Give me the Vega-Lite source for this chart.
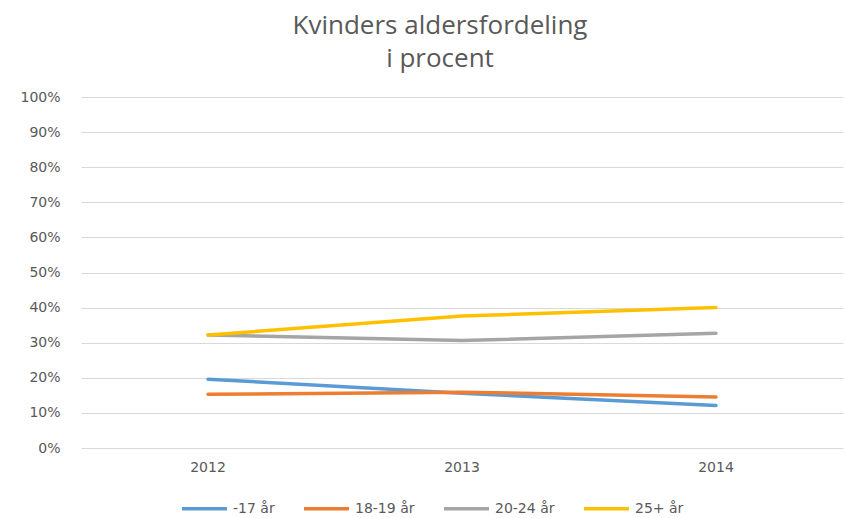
{
  "$schema": "https://vega.github.io/schema/vega-lite/v6.json",
  "width": 762,
  "height": 351,
  "autosize": {"type": "none"},
  "padding": {"left": 81, "top": 97, "right": 3, "bottom": 70},
  "background": "white",
  "title": {
    "text": ["Kvinders aldersfordeling", "i procent"],
    "font": "Open Sans",
    "fontSize": 26,
    "fontWeight": "normal",
    "color": "#595959",
    "lineHeight": 33,
    "anchor": "middle",
    "dx": -22,
    "offset": 18
  },
  "data": {
    "values": [
      {"year": "2012", "group": "-17 år", "value": 0.196},
      {"year": "2013", "group": "-17 år", "value": 0.156},
      {"year": "2014", "group": "-17 år", "value": 0.121},
      {"year": "2012", "group": "18-19 år", "value": 0.153},
      {"year": "2013", "group": "18-19 år", "value": 0.159},
      {"year": "2014", "group": "18-19 år", "value": 0.145},
      {"year": "2012", "group": "20-24 år", "value": 0.322},
      {"year": "2013", "group": "20-24 år", "value": 0.306},
      {"year": "2014", "group": "20-24 år", "value": 0.327},
      {"year": "2012", "group": "25+ år", "value": 0.322},
      {"year": "2013", "group": "25+ år", "value": 0.376},
      {"year": "2014", "group": "25+ år", "value": 0.400}
    ]
  },
  "mark": {"type": "line", "strokeWidth": 3.5, "strokeCap": "round"},
  "encoding": {
    "x": {
      "field": "year",
      "type": "ordinal",
      "scale": {"type": "band", "paddingInner": 0, "paddingOuter": 0},
      "axis": {
        "title": null,
        "labelAngle": 0,
        "labelFont": "DejaVu Sans",
        "labelFontSize": 14,
        "labelColor": "#595959",
        "labelPadding": 12,
        "ticks": false,
        "domain": false,
        "grid": false
      }
    },
    "y": {
      "field": "value",
      "type": "quantitative",
      "scale": {"domain": [0, 1], "nice": false},
      "axis": {
        "title": null,
        "format": ".0%",
        "values": [0, 0.1, 0.2, 0.3, 0.4, 0.5, 0.6, 0.7, 0.8, 0.9, 1],
        "labelFont": "DejaVu Sans",
        "labelFontSize": 14,
        "labelColor": "#595959",
        "labelPadding": 21,
        "ticks": false,
        "domain": false,
        "grid": true,
        "gridColor": "#d9d9d9",
        "gridWidth": 1
      }
    },
    "color": {
      "field": "group",
      "type": "nominal",
      "sort": ["-17 år", "18-19 år", "20-24 år", "25+ år"],
      "scale": {
        "domain": ["-17 år", "18-19 år", "20-24 år", "25+ år"],
        "range": ["#5B9BD5", "#ED7D31", "#A5A5A5", "#FFC000"]
      },
      "legend": {
        "title": null,
        "orient": "none",
        "direction": "horizontal",
        "columns": 4,
        "legendX": 99,
        "legendY": 387,
        "symbolType": "stroke",
        "symbolSize": 2025,
        "symbolStrokeWidth": 3.5,
        "labelFont": "DejaVu Sans",
        "labelFontSize": 14,
        "labelColor": "#595959",
        "labelOffset": 4,
        "columnPadding": 22
      }
    }
  },
  "config": {"view": {"stroke": null}}
}
